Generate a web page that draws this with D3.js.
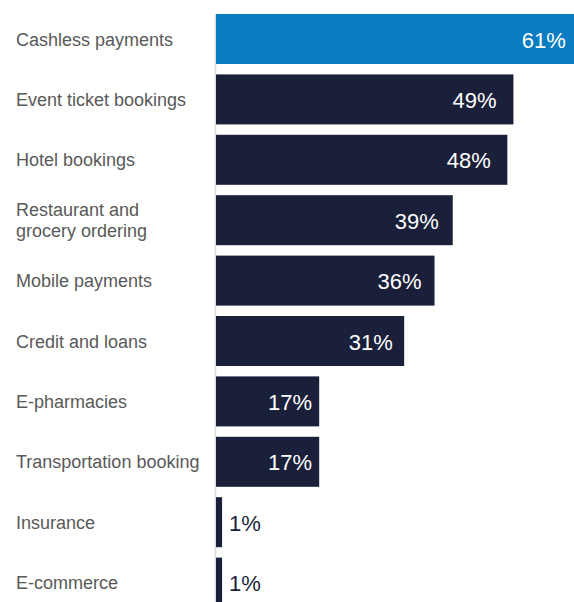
<!DOCTYPE html>
<html>
<head>
<meta charset="utf-8">
<script src="https://cdn.jsdelivr.net/npm/d3@7"></script>
<style>
  html, body { margin: 0; padding: 0; background: #fff; }
  svg { display: block; font-family: "Liberation Sans", Arial, sans-serif; }
</style>
</head>
<body>
<svg id="chart" width="574" height="602"></svg>
<script>
// Share of respondents by digital service category
const categories = [
  ["Cashless payments"],
  ["Event ticket bookings"],
  ["Hotel bookings"],
  ["Restaurant and", "grocery ordering"],
  ["Mobile payments"],
  ["Credit and loans"],
  ["E-pharmacies"],
  ["Transportation booking"],
  ["Insurance"],
  ["E-commerce"]
];
const values = [61, 49, 48, 39, 36, 31, 17, 17, 1, 1];
const highlight = [true, false, false, false, false, false, false, false, false, false];

const W = 574, H = 602;
const svg = d3.select("#chart");

const step = 60.4, barH = 50;
const x = d3.scaleLinear().domain([0, 100]).range([216, 823]);
const y = d3.scaleBand()
  .domain(d3.range(values.length))
  .range([14, 14 + step * (values.length - 1) + barH])
  .paddingInner((step - barH) / step)
  .paddingOuter(0)
  .align(0);

const data = values.map((v, i) => ({ v, i, label: categories[i], hi: highlight[i] }));

// vertical baseline
svg.append("line")
  .attr("x1", 215.5).attr("x2", 215.5)
  .attr("y1", y(0)).attr("y2", H)
  .attr("stroke", "#d9d9d9").attr("stroke-width", 1.5);

// bars
svg.selectAll("rect.bar").data(data).join("rect")
  .attr("class", "bar")
  .attr("x", x(0))
  .attr("y", d => y(d.i))
  .attr("width", d => x(d.v) - x(0))
  .attr("height", y.bandwidth())
  .attr("fill", d => d.hi ? "#0a7dc2" : "#1a1f3a");

// category labels
const cat = svg.selectAll("text.cat").data(data).join("text")
  .attr("class", "cat")
  .attr("x", 16)
  .attr("fill", "#595959")
  .style("font-size", "18px");
cat.each(function(d) {
  const n = d.label.length;
  const cy = y(d.i) + y.bandwidth() / 2;
  d3.select(this).selectAll("tspan").data(d.label).join("tspan")
    .attr("x", 16)
    .attr("y", (t, k) => cy + (k - (n - 1) / 2) * 21 + 6.5)
    .text(t => t);
});

// value labels: inside the bar when wide enough, otherwise just past its end
const inside = d => d.v >= 10;
svg.selectAll("text.val").data(data).join("text")
  .attr("class", "val")
  .attr("x", d => inside(d) ? x(d.v * 0.95) - 2 : x(d.v) + 7)
  .attr("y", d => y(d.i) + y.bandwidth() / 2 + 8.5)
  .attr("text-anchor", d => inside(d) ? "end" : "start")
  .attr("fill", d => inside(d) ? "#ffffff" : "#1a1f3a")
  .style("font-size", "22px")
  .text(d => d.v + "%");
</script>
</body>
</html>
